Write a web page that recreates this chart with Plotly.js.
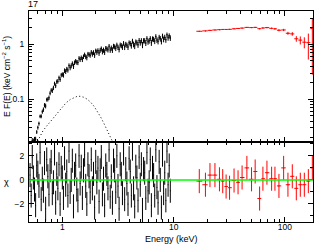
<!DOCTYPE html>
<html>
<head>
<meta charset="utf-8">
<script src="https://cdn.plot.ly/plotly-3.0.1.min.js"></script>
<style>html,body{margin:0;padding:0;background:#fff;}#chart{width:314px;height:244px;}</style>
</head>
<body>
<div id="chart"></div>
<script>
// ---- black spectrum (0.5-9.3 keV) ----
const blackE = [0.5129,0.5248,0.5370,0.5495,0.5623,0.5754,0.5888,0.6026,0.6166,0.6310,0.6457,0.6607,0.6761,0.6918,0.7079,0.7244,0.7413,0.7586,0.7762,0.7943,0.8128,0.8318,0.8511,0.8710,0.8913,0.9120,0.9333,0.9550,0.9772,1.000,1.023,1.047,1.072,1.096,1.122,1.148,1.175,1.202,1.230,1.259,1.288,1.318,1.349,1.380,1.413,1.445,1.479,1.514,1.549,1.585,1.622,1.660,1.698,1.738,1.778,1.820,1.862,1.905,1.950,1.995,2.042,2.089,2.138,2.188,2.239,2.291,2.344,2.399,2.455,2.512,2.570,2.630,2.692,2.754,2.818,2.884,2.951,3.020,3.090,3.162,3.236,3.311,3.388,3.467,3.548,3.631,3.715,3.802,3.890,3.981,4.074,4.169,4.266,4.365,4.467,4.571,4.677,4.786,4.898,5.012,5.129,5.248,5.370,5.495,5.623,5.754,5.888,6.026,6.166,6.310,6.457,6.607,6.761,6.918,7.079,7.244,7.413,7.586,7.762,7.943,8.128,8.318,8.511,8.710,8.913,9.120,9.333];
const blackFlux = [0.0148,0.0149,0.0175,0.0170,0.0185,0.0186,0.0252,0.0303,0.0359,0.0486,0.0489,0.0592,0.0647,0.0780,0.0755,0.0984,0.1000,0.1064,0.1288,0.1463,0.1440,0.1614,0.1929,0.1767,0.2091,0.2134,0.2468,0.2300,0.2756,0.2828,0.2782,0.3338,0.3214,0.3543,0.3420,0.4136,0.3763,0.4080,0.4494,0.4004,0.4651,0.4956,0.4734,0.4687,0.5616,0.5306,0.5741,0.5330,0.5995,0.6507,0.5988,0.5750,0.6699,0.6575,0.6374,0.7233,0.6674,0.7140,0.6399,0.7653,0.7257,0.7727,0.7003,0.7859,0.8348,0.7429,0.7910,0.7280,0.8495,0.8344,0.8022,0.9280,0.7943,0.8625,0.7940,0.9330,0.9074,0.8544,0.9799,0.8898,0.8161,0.9816,0.9537,0.8968,1.0483,0.8947,1.0098,0.9702,0.9000,1.0778,1.0382,0.9569,1.1514,1.0069,0.9432,1.1109,1.0787,0.9918,1.1859,1.0760,1.1745,0.9838,1.1731,1.1721,1.0676,1.2854,1.1213,1.1662,1.2830,1.0782,1.2684,1.2424,1.1543,1.3989,1.2106,1.1448,1.3568,1.2780,1.1463,1.4278,1.2426,1.3575,1.2218,1.4986,1.3210,1.4395,1.3133];
const blackErr = [0.002,0.002,0.002,0.002,0.002,0.002,0.002,0.0025,0.003,0.0035,0.004,0.005,0.006,0.007,0.0075,0.008,0.009,0.010,0.011,0.012,0.014,0.015,0.016,0.017,0.019,0.020,0.022,0.023,0.025,0.026,0.030,0.032,0.033,0.035,0.036,0.038,0.039,0.041,0.042,0.044,0.045,0.047,0.048,0.050,0.051,0.053,0.054,0.056,0.057,0.059,0.060,0.062,0.063,0.065,0.066,0.068,0.069,0.071,0.072,0.074,0.080,0.081,0.082,0.083,0.084,0.085,0.086,0.087,0.088,0.089,0.090,0.091,0.092,0.093,0.094,0.095,0.096,0.097,0.098,0.099,0.100,0.101,0.102,0.103,0.104,0.105,0.106,0.107,0.108,0.109,0.118,0.119,0.120,0.121,0.122,0.123,0.124,0.125,0.126,0.127,0.128,0.129,0.130,0.131,0.132,0.133,0.134,0.135,0.136,0.137,0.138,0.139,0.140,0.141,0.142,0.143,0.144,0.145,0.146,0.147,0.148,0.149,0.150,0.151,0.152,0.153,0.154];
const blackChi = [0.4,-1.3,1.9,0.2,-0.8,-2.1,1.2,0.6,-0.5,2.3,-1.6,0.1,-0.9,1.4,-2.4,1.7,0.3,-1.2,0.8,1.5,-1.1,-0.2,2.2,-1.9,0.5,-0.7,1.3,-2.0,1.0,0.2,-1.5,1.8,-0.4,0.7,-1.3,2.4,-1.0,0.0,1.6,-2.2,0.5,1.2,-0.8,-1.7,2.0,-0.3,1.1,-1.5,0.8,2.1,-0.5,-2.0,1.3,0.3,-1.0,1.7,-0.7,0.5,-2.3,1.5,-0.2,1.0,-1.8,0.8,1.9,-1.2,0.1,-2.1,1.2,0.5,-0.7,2.5,-1.4,0.3,-1.9,1.6,0.8,-1.0,2.0,-0.5,-2.4,1.3,0.5,-1.1,2.2,-1.6,0.9,-0.3,-2.0,1.8,0.7,-1.3,2.6,-0.7,-2.2,1.1,0.2,-1.7,1.9,-0.4,1.3,-2.5,0.9,0.6,-1.5,2.3,-0.9,-0.2,1.7,-2.1,1.0,0.4,-1.3,2.5,-0.6,-1.9,1.5,0.0,-2.3,2.1,-1.1,0.6,-1.7,2.4,-0.4,1.2,-0.9];

// ---- red spectrum (17-176 keV) ----
const redE     = [17.0,19.3,21.2,23.5,25.8,27.6,29.6,31.8,34.9,37.9,41.2,45.5,50.1,54.0,59.2,63.4,68.9,75.9,81.3,88.3,97.3,106.4,116.4,126.5,137.4,149.3,162.2,176.2];
const redBinLo = [16.0,18.1,20.2,22.3,24.6,26.7,28.6,30.7,33.3,36.4,39.5,43.3,47.7,52.0,56.5,61.3,66.1,72.3,78.5,84.7,92.7,101.7,111.3,121.3,131.8,143.2,155.6,169.1];
const redBinHi = [18.1,20.2,22.3,24.6,26.7,28.6,30.7,33.3,36.4,39.5,43.3,47.7,52.0,56.5,61.3,66.1,72.3,78.5,84.7,92.7,101.7,111.3,121.3,131.8,143.2,155.6,169.1,178.5];
const redFlux  = [1.74,1.77,1.81,1.84,1.86,1.88,1.88,1.89,1.93,1.96,1.99,2.05,2.03,2.05,1.94,2.00,2.03,1.97,1.93,1.82,1.84,1.60,1.56,1.27,1.20,1.10,1.08,1.95];
const redErrHi = [0.03,0.03,0.03,0.03,0.03,0.03,0.03,0.03,0.03,0.035,0.04,0.04,0.045,0.05,0.05,0.055,0.06,0.065,0.07,0.08,0.09,0.10,0.12,0.15,0.20,0.25,0.50,1.05];
const redErrLo = [0.03,0.03,0.03,0.03,0.03,0.03,0.03,0.03,0.03,0.035,0.04,0.04,0.045,0.05,0.05,0.055,0.06,0.065,0.07,0.08,0.09,0.10,0.12,0.15,0.20,0.25,0.55,1.67];
const redChi   = [-0.1,-0.4,0.4,0.4,0.05,-0.1,-0.55,-0.65,-0.05,-0.2,0.2,1.0,0.05,0.7,-1.55,0.1,0.6,0.1,0.1,-0.5,1.0,-0.4,0.3,-0.7,-0.4,-0.4,-0.1,1.0];

// ---- dotted model component ----
const compE    = [0.58,0.60,0.63,0.67,0.72,0.78,0.85,0.92,1.00,1.08,1.18,1.27,1.36,1.45,1.55,1.66,1.79,1.93,2.07,2.20,2.35,2.54,2.70,2.85,2.95];
const compFlux = [0.0150,0.0170,0.0215,0.0265,0.032,0.039,0.048,0.060,0.073,0.086,0.099,0.108,0.113,0.113,0.109,0.101,0.089,0.074,0.060,0.048,0.037,0.027,0.021,0.0165,0.014];

const chiUnit = 1; // residual error bars are 1 sigma

const redMinus = redE.map((e,i)=>e-redBinLo[i]);
const redPlus  = redE.map((e,i)=>redBinHi[i]-e);

const traces = [
  {x: compE, y: compFlux, xaxis:'x', yaxis:'y', mode:'lines',
   line:{color:'black', width:1, dash:'1px,2.5px'}, hoverinfo:'skip'},
  {x: blackE, y: blackFlux, xaxis:'x', yaxis:'y', mode:'markers',
   marker:{color:'black', size:1.5},
   error_y:{type:'data', array: blackErr, color:'black', thickness:1, width:0}},
  {x: redE, y: redFlux, xaxis:'x', yaxis:'y', mode:'markers',
   marker:{color:'red', size:1},
   error_x:{type:'data', array: redPlus, arrayminus: redMinus, color:'red', thickness:1, width:0},
   error_y:{type:'data', array: redErrHi, arrayminus: redErrLo, color:'red', thickness:1, width:0}},
  {x: blackE, y: blackChi, xaxis:'x2', yaxis:'y2', mode:'markers',
   marker:{color:'black', size:1},
   error_y:{type:'constant', value: chiUnit, color:'black', thickness:1, width:0}},
  {x: redE, y: redChi, xaxis:'x2', yaxis:'y2', mode:'markers',
   marker:{color:'red', size:1},
   error_x:{type:'data', array: redPlus, arrayminus: redMinus, color:'red', thickness:1, width:0},
   error_y:{type:'constant', value: chiUnit, color:'red', thickness:1, width:0}}
];

const xMinor = {tickmode:'array', tickvals:[0.6,0.7,0.8,0.9,2,3,4,5,6,7,8,9,20,30,40,50,60,70,80,90,200],
  ticks:'inside', ticklen:3, tickcolor:'black', showgrid:false};
const fnt = {family:'Liberation Sans, Arial, sans-serif', size:9, color:'black'};
const tfnt = {family:'Liberation Sans, Arial, sans-serif', size:8.5, color:'black'};

const xCommon = {type:'log', range:[-0.2995, 2.252], tickmode:'array', tickvals:[1,10,100], ticktext:['1','10','100'],
  ticks:'inside', ticklen:5, tickcolor:'black', tickwidth:1, showline:true, linecolor:'black', linewidth:1,
  mirror:'allticks', showgrid:false, zeroline:false, minor:xMinor, tickfont:tfnt};

const layout = {
  width:314, height:244,
  margin:{l:29, r:1, t:11, b:22, pad:0},
  paper_bgcolor:'white', plot_bgcolor:'white',
  showlegend:false,
  font: fnt,
  xaxis: Object.assign({}, xCommon, {anchor:'y', domain:[0,1], showticklabels:false}),
  xaxis2: Object.assign({}, xCommon, {anchor:'y2', domain:[0,1], showticklabels:true, ticklabelstandoff:-3}),
  yaxis: {type:'log', domain:[0.379,1], anchor:'x', range:[-1.782, 0.611],
    tickmode:'array', tickvals:[0.1,1], ticktext:['0.1','1'],
    ticks:'inside', ticklen:5, tickcolor:'black', showline:true, linecolor:'black', linewidth:1,
    mirror:'allticks', showgrid:false, zeroline:false, tickfont:tfnt, ticklabelstandoff:2,
    minor:{tickmode:'array', tickvals:[0.02,0.03,0.04,0.05,0.06,0.07,0.08,0.09,0.2,0.3,0.4,0.5,0.6,0.7,0.8,0.9,2,3,4],
      ticks:'inside', ticklen:3, tickcolor:'black', showgrid:false}},
  yaxis2: {domain:[0,0.379], anchor:'x2', range:[-3.5, 3.15],
    tickmode:'array', tickvals:[-2,0,2], ticktext:['\u22122','0','2'],
    ticks:'inside', ticklen:5, tickcolor:'black', showline:true, linecolor:'black', linewidth:1,
    mirror:'allticks', showgrid:false, zeroline:false, tickfont:tfnt, ticklabelstandoff:2,
    minor:{tickmode:'array', tickvals:[-3,-1,1,3], ticks:'inside', ticklen:3, tickcolor:'black', showgrid:false}},
  shapes:[{type:'line', xref:'x2 domain', x0:0, x1:1, yref:'y2', y0:0, y1:0,
    line:{color:'#00ff00', width:1.5}, layer:'above'}],
  annotations:[
    {text:'17', xref:'paper', yref:'paper', x:0.014, y:1.031, xanchor:'center', yanchor:'middle', showarrow:false, font:fnt},
    {text:'E F(E) (keV cm<sup>\u22122</sup> s<sup>\u22121</sup>)', xref:'paper', yref:'paper', x:-0.079, y:0.69,
     xanchor:'center', yanchor:'middle', textangle:-90, showarrow:false,
     font:{family:'Liberation Sans, Arial, sans-serif', size:8.5, color:'black'}},
    {text:'\u03c7', xref:'paper', yref:'paper', x:-0.0775, y:0.19, xanchor:'center', yanchor:'middle', showarrow:false, font:fnt},
    {text:'Energy (keV)', xref:'paper', yref:'paper', x:0.5, y:-0.08, xanchor:'center', yanchor:'middle', showarrow:false, font:fnt}
  ]
};

Plotly.newPlot('chart', traces, layout, {staticPlot:true, displayModeBar:false});
</script>
</body>
</html>
